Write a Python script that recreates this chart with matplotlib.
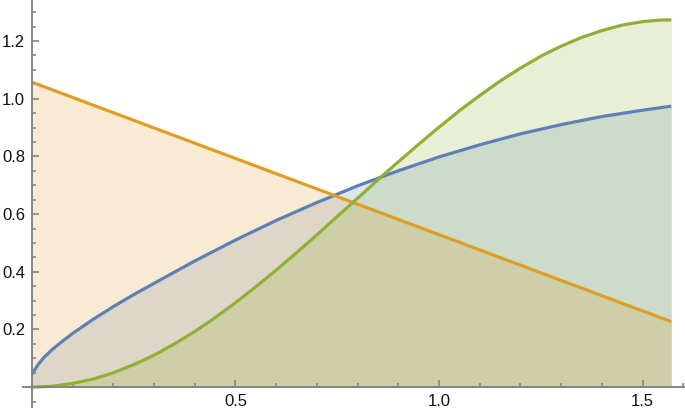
import numpy as np
import matplotlib
matplotlib.use("Agg")
import matplotlib.pyplot as plt
from matplotlib.ticker import MultipleLocator, FixedLocator

# ---- data ----
blue_x = [0.0, 0.005, 0.015, 0.03, 0.05, 0.077, 0.1, 0.15, 0.2, 0.25, 0.3, 0.4,
          0.5, 0.6, 0.7, 0.8, 0.9, 1.0, 1.1, 1.2, 1.3, 1.4, 1.5, 1.5708]
blue_y = [0.045, 0.057, 0.0785, 0.104, 0.131, 0.162, 0.1865, 0.235, 0.2795, 0.321,
          0.360, 0.4375, 0.510, 0.578, 0.640, 0.698, 0.750, 0.798, 0.840, 0.878,
          0.910, 0.938, 0.960, 0.974]

orange_x = [0.0, 1.5708]
orange_y = [1.057, 0.227]

green_x = [0.0, 0.05, 0.1, 0.15, 0.2, 0.25, 0.3, 0.35, 0.4, 0.45, 0.5, 0.55, 0.6,
           0.65, 0.7, 0.75, 0.8, 0.85, 0.9, 0.95, 1.0, 1.05, 1.1, 1.15, 1.2, 1.25,
           1.3, 1.35, 1.4, 1.45, 1.5, 1.55, 1.5708]
green_y = [0.0, 0.003, 0.013, 0.028, 0.050, 0.078, 0.111, 0.150, 0.193, 0.241,
           0.293, 0.348, 0.406, 0.466, 0.528, 0.592, 0.655, 0.719, 0.781, 0.842,
           0.901, 0.958, 1.011, 1.061, 1.106, 1.147, 1.182, 1.212, 1.236, 1.255,
           1.267, 1.273, 1.273]

x_major = [0.5, 1.0, 1.5]
x_labels = ["0.5", "1.0", "1.5"]
y_major = [0.2, 0.4, 0.6, 0.8, 1.0, 1.2]
y_labels = ["0.2", "0.4", "0.6", "0.8", "1.0", "1.2"]

c_blue = "#5E81B5"
c_orange = "#E19C24"
c_green = "#8FB032"

fig = plt.figure(figsize=(6.85, 4.11), dpi=100)
ax = fig.add_axes([0.0331, 0.0105, 0.9669, 0.9895])
ax.set_xlim(-0.0229, 1.6044)
ax.set_ylim(-0.0676, 1.342)

series = [(blue_x, blue_y, c_blue), (orange_x, orange_y, c_orange), (green_x, green_y, c_green)]
for xs, ys, c in series:
    ax.fill_between(xs, 0, ys, color=c, alpha=0.2, linewidth=0)
for xs, ys, c in series:
    ax.plot(xs, ys, color=c, lw=2.3, solid_capstyle="butt", solid_joinstyle="round")

for s in ["top", "right"]:
    ax.spines[s].set_visible(False)
ax.spines["left"].set_position(("data", 0))
ax.spines["bottom"].set_position(("data", 0))
axis_col = "#858585"
for s in ["left", "bottom"]:
    ax.spines[s].set_color(axis_col)
    ax.spines[s].set_linewidth(1.4)

ax.xaxis.set_major_locator(FixedLocator(x_major))
ax.set_xticklabels(x_labels)
ax.xaxis.set_minor_locator(MultipleLocator(0.1))
ax.yaxis.set_major_locator(FixedLocator(y_major))
ax.set_yticklabels(y_labels)
ax.yaxis.set_minor_locator(MultipleLocator(0.05))

ax.tick_params(which="both", direction="in", color=axis_col, width=1.2)
ax.tick_params(which="major", length=5)
ax.tick_params(which="minor", length=3)
ax.tick_params(axis="x", which="major", pad=5, labelsize=12, labelcolor="#111111")
ax.tick_params(axis="y", which="major", pad=5, labelsize=12, labelcolor="#111111")
for lab in ax.get_xticklabels() + ax.get_yticklabels():
    lab.set_family(["Liberation Sans", "DejaVu Sans"])

ax.patch.set_alpha(0)
fig.savefig("out.png", dpi=100)
